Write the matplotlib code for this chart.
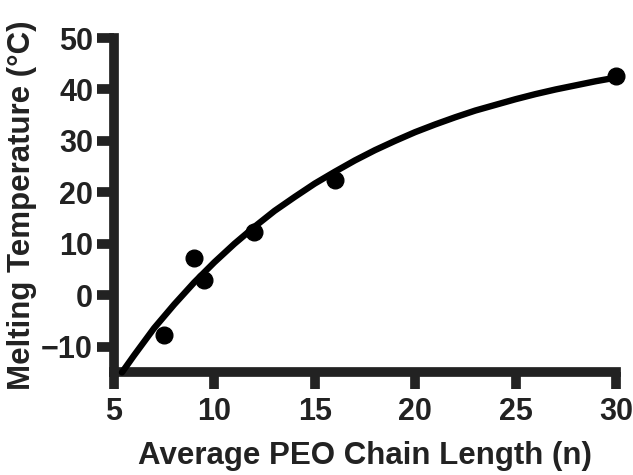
import matplotlib
matplotlib.use("Agg")
import matplotlib.pyplot as plt

# Data points
chain_length = [7.5, 9.0, 9.5, 12.0, 16.0, 30.0]
melting_temp = [-7.8, 7.3, 2.9, 12.3, 22.4, 42.7]

# Fitted curve
fit_x = [5.4, 6.0, 7.0, 8.0, 9.0, 10.0, 11.0, 12.0, 13.0, 14.0, 15.0, 16.0, 17.0, 18.0,
         19.0, 20.0, 21.0, 22.0, 23.0, 24.0, 25.0, 26.0, 27.0, 28.0, 29.0, 30.0]
fit_y = [-15.0, -11.7, -6.4, -1.8, 2.5, 6.4, 10.0, 13.3, 16.4, 19.1, 21.7, 24.0, 26.2, 28.2,
         30.0, 31.7, 33.2, 34.6, 35.9, 37.0, 38.1, 39.1, 40.0, 40.8, 41.6, 42.3]

x_ticks = [5, 10, 15, 20, 25, 30]
y_ticks = [-10, 0, 10, 20, 30, 40, 50]

plt.rcParams['font.family'] = ['Liberation Sans', 'DejaVu Sans']

fig = plt.figure(figsize=(6.33, 4.75), dpi=100)
ax = fig.add_axes([0.180, 0.216, 0.793, 0.704])

ax.plot(fit_x, fit_y, color='black', lw=4.6, solid_capstyle='round', solid_joinstyle='round',
        zorder=3, clip_on=False)
ax.plot(chain_length, melting_temp, 'o', color='black', ms=12, zorder=4, clip_on=False)

ax.set_xlim(5, 30)
ax.set_ylim(-15, 50)
ax.set_xticks(x_ticks)
ax.set_yticks(y_ticks)

for s in ['top', 'right']:
    ax.spines[s].set_visible(False)
for s in ['left', 'bottom']:
    ax.spines[s].set_linewidth(7)
    ax.spines[s].set_color('#222222')
    ax.spines[s].set_capstyle('projecting')

ax.tick_params(axis='both', width=7, length=12, color='#222222', labelcolor='#222222', labelsize=22)
ax.tick_params(axis='x', pad=6)
ax.tick_params(axis='y', pad=3)
for lab in ax.get_xticklabels() + ax.get_yticklabels():
    lab.set_fontweight('bold')

ax.set_xlabel('Average PEO Chain Length (n)', fontsize=22.5, fontweight='bold', color='#222222', labelpad=10)
ax.set_ylabel('Melting Temperature (°C)', fontsize=22.5, fontweight='bold', color='#222222', labelpad=3)

fig.savefig('out.png', dpi=100)
